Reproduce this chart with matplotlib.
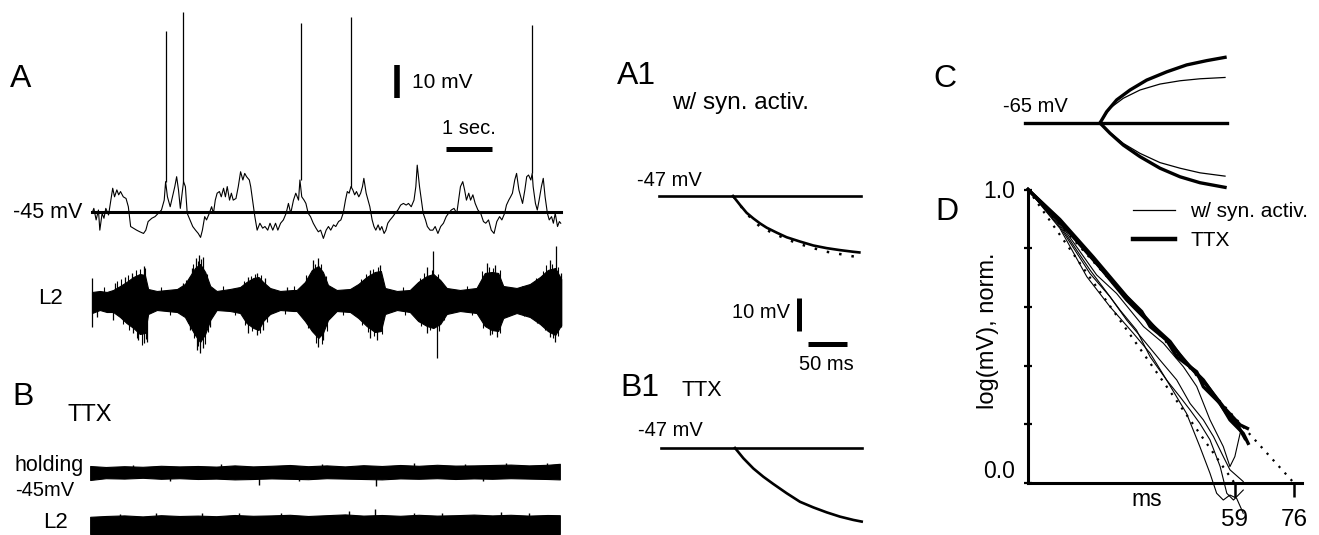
import numpy as np
import matplotlib
matplotlib.use("Agg")
import matplotlib.pyplot as plt
from matplotlib.lines import Line2D

plt.rcParams['font.family'] = ['Liberation Sans', 'DejaVu Sans']

# ---------------- data ----------------
# A: membrane potential with synaptic activity, (time s, mV)
vm_trace = [
    (0.00, -45.4), (0.04, -43.9), (0.09, -47.4), (0.14, -44.4), (0.17, -50.5), (0.22, -45.4),
    (0.26, -46.9), (0.30, -43.9), (0.36, -45.9), (0.41, -41.4), (0.45, -37.8), (0.49, -40.4),
    (0.54, -38.3), (0.58, -39.8), (0.62, -38.8), (0.68, -40.4), (0.74, -40.9), (0.79, -43.4),
    (0.84, -49.4), (0.90, -49.9), (0.97, -50.5), (1.04, -51.0), (1.12, -51.5), (1.17, -50.5),
    (1.22, -47.9), (1.30, -46.9), (1.37, -46.4), (1.44, -45.4), (1.51, -44.4), (1.57, -41.4),
    (1.60, -35.8), (1.64, -40.4), (1.70, -43.4), (1.75, -40.4), (1.80, -37.3), (1.84, -34.3),
    (1.88, -38.3), (1.92, -43.9), (1.96, -39.3), (1.99, -35.8), (2.03, -37.3), (2.07, -45.4),
    (2.13, -47.4), (2.19, -49.4), (2.25, -50.5), (2.31, -51.5), (2.36, -52.7), (2.40, -50.5),
    (2.45, -46.4), (2.49, -47.4), (2.55, -45.4), (2.60, -43.4), (2.64, -45.4), (2.68, -41.4),
    (2.72, -39.3), (2.77, -38.8), (2.81, -40.4), (2.86, -37.8), (2.90, -40.4), (2.94, -37.3),
    (2.99, -41.4), (3.03, -39.3), (3.07, -41.4), (3.13, -40.9), (3.18, -37.3), (3.23, -32.8),
    (3.28, -35.3), (3.32, -33.3), (3.36, -34.3), (3.42, -35.3), (3.45, -37.3), (3.51, -43.4),
    (3.54, -46.4), (3.59, -50.5), (3.65, -48.4), (3.71, -49.9), (3.76, -49.4), (3.82, -50.5),
    (3.87, -48.4), (3.93, -50.5), (3.99, -48.4), (4.04, -50.5), (4.10, -48.4), (4.16, -47.4),
    (4.22, -45.4), (4.27, -42.4), (4.32, -45.4), (4.38, -41.4), (4.43, -39.3), (4.49, -41.4),
    (4.52, -35.3), (4.56, -40.4), (4.61, -41.4), (4.65, -42.4), (4.70, -45.4), (4.75, -46.4),
    (4.81, -48.4), (4.87, -49.9), (4.92, -51.0), (4.97, -50.5), (5.03, -53.0), (5.09, -50.5),
    (5.14, -49.4), (5.19, -50.5), (5.25, -48.9), (5.30, -49.4), (5.36, -47.9), (5.41, -47.4),
    (5.46, -45.4), (5.51, -41.4), (5.55, -38.8), (5.59, -39.3), (5.63, -37.3), (5.67, -38.3),
    (5.71, -39.8), (5.75, -38.8), (5.80, -40.4), (5.84, -39.3), (5.88, -37.3), (5.91, -34.8),
    (5.96, -39.3), (6.00, -41.4), (6.04, -43.4), (6.09, -47.4), (6.13, -49.4), (6.17, -50.5),
    (6.22, -48.9), (6.26, -50.5), (6.30, -49.4), (6.35, -51.5), (6.39, -50.5), (6.43, -48.4),
    (6.48, -47.4), (6.54, -46.4), (6.59, -45.4), (6.65, -44.4), (6.71, -42.9), (6.77, -42.4),
    (6.83, -42.9), (6.88, -42.4), (6.94, -43.4), (7.00, -41.4), (7.04, -37.3), (7.07, -30.8),
    (7.12, -37.3), (7.16, -41.4), (7.20, -45.4), (7.25, -47.4), (7.29, -49.4), (7.35, -50.5),
    (7.41, -50.5), (7.46, -49.4), (7.52, -51.5), (7.58, -49.4), (7.64, -48.4), (7.70, -46.4),
    (7.75, -45.4), (7.81, -44.4), (7.87, -43.9), (7.93, -45.4), (7.97, -41.4), (8.01, -37.3),
    (8.06, -35.8), (8.10, -38.3), (8.14, -41.4), (8.19, -39.3), (8.23, -41.4), (8.28, -39.8),
    (8.33, -42.4), (8.39, -44.4), (8.45, -45.4), (8.51, -47.9), (8.56, -48.4), (8.62, -47.4),
    (8.68, -50.5), (8.74, -51.5), (8.80, -47.9), (8.86, -46.4), (8.91, -47.4), (8.97, -45.4),
    (9.01, -42.9), (9.06, -41.4), (9.10, -40.4), (9.14, -39.3), (9.19, -35.3), (9.23, -33.3),
    (9.28, -38.3), (9.32, -40.4), (9.36, -42.4), (9.41, -38.3), (9.45, -34.3), (9.49, -33.8),
    (9.54, -35.3), (9.57, -33.3), (9.59, -37.3), (9.64, -42.4), (9.68, -44.4), (9.72, -41.4),
    (9.77, -37.3), (9.81, -34.8), (9.85, -40.4), (9.90, -45.4), (9.94, -47.4), (9.99, -46.4),
    (10.03, -48.4), (10.07, -45.4), (10.12, -49.4), (10.16, -47.9), (10.19, -48.4),
]
rest_mv = -45
spike_t = [1.61, 1.98, 4.54, 5.63, 9.57]
spike_base = [-35.8, -35.8, -35.3, -37.3, -33.3]
spike_peak = [9.8, 15.6, 12.3, 14.1, 11.7]

# A: L2 nerve recording, envelope (time s, upper, lower) in a.u.
l2_env = [
    (0.00, 0.8, -1.3), (0.17, 0.9, -1.0), (0.32, 0.8, -1.2), (0.46, 1.0, -1.2), (0.61, 1.4, -1.7),
    (0.75, 1.8, -2.3), (0.90, 2.3, -2.8), (1.04, 2.6, -3.4), (1.15, 2.5, -3.3), (1.22, 1.1, -1.4),
    (1.41, 0.9, -1.0), (1.63, 1.0, -1.1), (1.85, 1.1, -1.2), (2.02, 1.6, -1.7), (2.13, 2.4, -2.6),
    (2.24, 3.2, -3.5), (2.35, 3.6, -4.2), (2.46, 2.8, -3.4), (2.57, 1.4, -2.0), (2.71, 0.9, -1.0),
    (3.00, 1.1, -1.1), (3.22, 1.3, -1.3), (3.36, 1.8, -2.3), (3.51, 2.2, -2.8), (3.62, 2.3, -3.0),
    (3.72, 1.8, -2.1), (3.87, 1.2, -1.4), (4.09, 0.9, -1.0), (4.38, 1.0, -1.1), (4.45, 1.0, -1.1),
    (4.63, 1.8, -2.1), (4.78, 3.0, -3.1), (4.92, 3.4, -3.8), (5.02, 2.8, -3.3), (5.13, 1.5, -2.0),
    (5.32, 1.0, -1.1), (5.61, 1.1, -1.2), (5.79, 1.6, -1.8), (5.97, 2.3, -2.6), (6.15, 2.8, -3.2),
    (6.28, 2.9, -3.1), (6.37, 1.2, -1.4), (6.63, 0.9, -1.0), (6.91, 1.0, -1.2), (7.09, 1.8, -2.1),
    (7.28, 2.4, -2.6), (7.42, 2.6, -2.8), (7.57, 2.0, -2.4), (7.71, 1.2, -1.4), (8.00, 1.0, -1.1),
    (8.36, 1.2, -1.3), (8.54, 2.7, -2.6), (8.69, 2.8, -3.0), (8.83, 2.7, -3.1), (8.94, 1.4, -1.8),
    (9.23, 1.2, -1.3), (9.52, 1.6, -1.7), (9.74, 2.3, -2.4), (9.91, 3.0, -3.1), (10.07, 3.2, -3.5),
    (10.20, 2.1, -2.5),
]
# tall excursions sticking out of the L2 band (time s, tip a.u.)
l2_spikes = [
    (0.00, 2.2), (0.00, -2.7), (0.50, 1.7), (0.72, 2.3), (0.86, 2.7), (1.12, 3.4), (1.97, 1.7),
    (2.17, 3.2), (2.26, 4.2), (2.33, 4.5), (2.41, 4.3), (3.40, 2.3), (3.58, 2.7), (3.76, 2.2),
    (4.23, 1.3), (0.10, -1.7), (0.46, -2.0), (0.90, -3.3), (1.01, -4.0), (1.12, -4.3), (1.19, -4.2),
    (2.13, -3.0), (2.28, -5.0), (2.35, -5.3), (2.42, -4.8), (2.57, -2.7), (3.40, -3.3), (3.58, -3.5),
    (3.72, -3.0), (4.81, 4.0), (4.92, 4.2), (6.04, 3.0), (6.26, 3.5), (7.28, 3.3), (7.42, 4.9),
    (8.58, 3.7), (8.76, 3.5), (9.96, 4.0), (10.09, 5.4), (4.92, -4.7), (5.03, -4.0), (6.04, -3.8),
    (6.19, -4.0), (7.28, -3.3), (7.49, -5.8), (8.65, -3.5), (8.80, -3.7), (9.96, -3.7), (10.07, -4.2),
    (10.20, 2.7), (10.20, -2.7),
]
# shorter hairs along the band edges (time s, tip a.u.)
l2_hairs = [
    (0.55, 1.9), (0.62, 2.1), (0.68, -2.4), (0.78, 2.5), (0.80, -3.0), (0.95, 3.0), (0.97, -3.8),
    (1.05, 3.1), (1.08, -4.5), (1.16, 3.2), (1.17, -3.9), (2.05, 2.0), (2.08, -2.3), (2.20, 3.6),
    (2.22, -3.8), (2.30, 3.9), (2.31, -4.6), (2.38, 4.1), (2.45, -4.4), (2.50, 2.6), (2.52, -3.2),
    (3.30, 1.9), (3.33, -2.5), (3.45, 2.4), (3.48, -3.1), (3.55, 2.6), (3.65, -3.3), (3.68, 2.5),
    (3.80, -2.2), (4.66, 2.5), (4.70, -2.8), (4.85, 3.6), (4.88, -4.3), (4.98, 3.6), (5.00, -4.4),
    (5.08, 2.4), (5.10, -3.1), (5.85, 2.1), (5.88, -2.5), (5.95, 2.6), (6.00, -3.2), (6.10, 3.1),
    (6.12, -3.6), (6.22, 3.3), (6.30, -3.4), (7.12, 2.2), (7.15, -2.6), (7.22, 2.7), (7.35, -3.0),
    (7.40, 3.0), (7.52, 2.6), (7.55, -3.1), (7.65, -2.0), (8.48, 2.9), (8.50, -2.8), (8.62, 3.3),
    (8.70, -3.4), (8.72, 3.2), (8.86, 3.0), (8.88, -3.3), (9.65, 2.2), (9.68, -2.3), (9.80, 2.9),
    (9.84, -3.0), (9.88, 3.5), (10.00, 3.6), (10.02, -3.8), (10.12, 3.3), (10.14, -3.6),
    (0.25, 1.3), (1.50, 1.3), (1.70, -1.5), (2.85, 1.4), (3.10, -1.5), (4.20, -1.4), (4.40, 1.4),
    (5.45, -1.5), (6.75, 1.3), (6.80, -1.5), (8.15, 1.4), (8.25, -1.5), (9.35, 1.4), (9.40, -1.6),
]

# B: TTX, holding current and L2 (time s, upper, lower) in a.u.
hold_t = [-0.04, 0.3, 0.7, 1.1, 1.5, 1.9, 2.3, 2.7, 3.1, 3.5, 3.9, 4.3, 4.7, 5.1,
          5.5, 5.9, 6.3, 6.7, 7.1, 7.5, 7.9, 8.3, 8.7, 9.1, 9.5, 9.9, 10.17]
hold_up = [3.5, 3.0, 3.4, 3.1, 3.6, 3.3, 3.5, 3.2, 3.8, 3.3, 3.6, 4.0, 3.4, 3.8,
           3.3, 3.9, 3.5, 4.0, 3.6, 4.1, 3.7, 3.8, 4.0, 4.2, 3.8, 4.1, 4.6]
hold_lo = [-3.5, -2.6, -2.8, -2.4, -2.9, -2.6, -3.0, -2.8, -3.2, -3.0, -2.7, -2.9, -3.1, -2.6,
           -2.8, -3.0, -3.2, -2.7, -2.9, -2.6, -3.0, -2.7, -2.9, -2.6, -2.8, -3.0, -3.2]
hold_spikes = [(3.63, -6.0), (6.17, -6.5), (2.8, 4.6), (5.0, 4.4), (7.0, 4.8), (9.0, 5.0), (9.9, 4.8),
               (0.9, 4.2), (1.7, -3.8), (4.5, -3.9), (8.1, 4.5), (8.5, -3.8)]
l2b_up = [3.6, 4.0, 4.3, 3.8, 4.4, 4.0, 4.2, 3.9, 4.5, 4.1, 4.3, 4.6, 4.0, 4.4,
          4.8, 4.2, 4.5, 4.1, 4.6, 4.2, 4.4, 4.7, 4.3, 4.6, 4.2, 4.5, 4.4]
l2b_lo = [-5.0] * len(hold_t)
l2b_spikes = [(5.59, 6.5), (6.15, 7.5), (1.4, 5.6), (3.2, 5.4), (7.6, 5.6), (8.9, 5.8),
              (0.6, 5.2), (2.4, 5.3), (4.1, 5.4), (7.0, 5.3), (9.5, 5.6)]

# A1 / B1: response to hyperpolarizing step (ms, mV)
a1_span = [-95, 164]
a1_resp = [(0, -47.0), (9.0, -49.7), (17.5, -52.1), (26.1, -53.8), (34.6, -55.3), (43.2, -56.6),
           (56.0, -58.1), (68.8, -59.5), (85.9, -60.8), (103.0, -62.0), (120.1, -62.8),
           (137.2, -63.4), (154.2, -63.9), (162.0, -64.1)]
a1_fit = [(0, -47.0), (17.5, -52.4), (34.6, -56.3), (51.7, -58.3), (68.8, -60.1), (85.9, -61.6),
          (103.0, -62.8), (120.1, -63.9), (137.2, -64.6), (156.4, -65.4)]
b1_span = [-95, 163]
b1_resp = [(0, -47.0), (10.7, -50.1), (23.5, -53.2), (36.3, -55.7), (49.1, -57.9), (66.2, -60.7),
           (83.3, -63.3), (100.4, -65.0), (117.5, -66.5), (134.6, -67.8), (151.7, -68.8),
           (162.4, -69.3)]

# C: depolarizing / hyperpolarizing responses from -65 mV (ms, mV)
c_span = [-96, 163]
c_ttx_up = [(0, -65.0), (8.5, -61.6), (21.4, -58.0), (38.5, -55.0), (59.8, -52.0), (85.5, -49.5),
            (111.1, -47.4), (136.8, -46.1), (160.3, -45.1)]
c_syn_up = [(0, -65.0), (12.8, -60.5), (29.9, -57.5), (51.3, -55.0), (76.9, -53.2), (102.6, -52.2),
            (128.2, -51.6), (160.3, -51.2)]
c_ttx_dn = [(0, -65.0), (12.8, -68.1), (29.9, -71.7), (51.3, -75.2), (76.9, -78.7), (102.6, -81.3),
            (128.2, -83.1), (160.3, -84.5)]
c_syn_dn = [(0, -65.0), (12.8, -67.9), (29.9, -71.2), (51.3, -74.2), (76.9, -77.0), (102.6, -78.7),
            (128.2, -80.1), (160.3, -81.1)]

# D: normalized log decay (ms, norm.)
ttx_decays = [
    [(0, 1.0), (9.1, 0.890), (18.7, 0.760), (26.3, 0.658), (33.0, 0.572), (36.8, 0.521), (41.5, 0.464),
     (46.3, 0.396), (51.0, 0.334), (55.8, 0.260), (60.6, 0.198), (62.7, 0.186)],
    [(0, 1.0), (9.1, 0.898), (18.7, 0.769), (28.2, 0.635), (32.5, 0.584), (34.9, 0.533), (39.6, 0.487),
     (42.5, 0.430), (48.2, 0.379), (50.1, 0.328), (54.9, 0.271), (57.7, 0.215), (61.5, 0.169), (62.9, 0.135)],
    [(0, 1.0), (9.1, 0.894), (18.7, 0.762), (28.2, 0.624), (33.9, 0.555), (40.6, 0.482), (44.4, 0.419),
     (50.1, 0.351), (56.8, 0.237), (59.6, 0.203), (62.0, 0.152)],
]
syn_decays = [
    [(0, 1.0), (9.1, 0.885), (19.6, 0.709), (25.3, 0.646), (33.0, 0.533), (38.7, 0.476), (44.4, 0.396),
     (48.2, 0.329), (52.0, 0.215), (55.8, 0.124), (57.7, 0.056), (59.1, 0.090), (60.6, 0.169)],
    [(0, 1.0), (9.1, 0.879), (17.7, 0.726), (26.3, 0.589), (31.0, 0.521), (34.9, 0.430), (39.6, 0.351),
     (43.4, 0.294), (46.3, 0.249), (49.1, 0.203), (52.0, 0.147), (54.9, 0.056), (56.8, -0.035),
     (58.7, -0.058), (61.5, -0.024)],
    [(0, 1.0), (9.1, 0.873), (17.7, 0.714), (23.4, 0.635), (28.2, 0.555), (33.0, 0.487), (37.7, 0.419),
     (42.5, 0.351), (46.3, 0.271), (50.1, 0.215), (53.0, 0.158), (55.8, 0.090), (57.7, 0.045), (61.5, 0.005)],
    [(0, 1.0), (9.1, 0.868), (16.8, 0.703), (23.4, 0.601), (30.1, 0.510), (34.9, 0.442), (39.6, 0.351),
     (45.3, 0.237), (49.1, 0.124), (52.0, 0.033), (53.9, -0.035), (55.8, -0.058), (57.7, -0.041),
     (59.6, -0.052), (61.5, -0.103)],
]
fit_syn = [(0, 1.0), (59, 0.0)]
fit_ttx = [(0, 1.0), (76, 0.0)]
d_ticks = [59, 76]

# ---------------- figure ----------------
W, H = 1319, 535
fig = plt.figure(figsize=(W / 100, H / 100), dpi=100)


def panel(x0, y0, x1, y1, xmap, ymap):
    # invisible axes placed in pixel space, data limits from the trace scale
    ax = fig.add_axes([x0 / W, 1 - y1 / H, (x1 - x0) / W, (y1 - y0) / H])
    ax.set_xlim(xmap(x0), xmap(x1))
    ax.set_ylim(ymap(y1), ymap(y0))
    ax.axis('off')
    return ax


def txt(x, y, s, size=14.5, ha='left', **kw):
    fig.text(x / W, 1 - y / H, s, fontsize=size, ha=ha, va='center', **kw)


def xy(points):
    a = np.array(points, dtype=float)
    return a[:, 0], a[:, 1]


sec = lambda x: (x - 92) / 46.0

# A
axA = panel(80, 0, 580, 240, sec, lambda y: -45 + (212 - y) / 3.3)
t, v = xy(vm_trace)
axA.plot(t, v, color='k', lw=0.8)
axA.vlines(spike_t, spike_base, spike_peak, color='k', lw=0.9)
axA.plot([t[0], t[-1]], [rest_mv, rest_mv], color='k', lw=2.2)
axA.plot([6.63, 6.63], [-10.5, -10.5 + 10], color='k', lw=4, solid_capstyle='butt')
axA.plot([7.70, 7.70 + 1], [-25.9, -25.9], color='k', lw=3.6, solid_capstyle='butt')

axL = panel(80, 230, 580, 370, sec, lambda y: (300 - y) / 10.0)
lt, lu = xy([(p[0], p[1]) for p in l2_env])
_, ll = xy([(p[0], p[2]) for p in l2_env])
axL.fill_between(lt, lu, ll, color='k', lw=0.8)
st, sv = xy(l2_spikes)
axL.vlines(st, 0, sv, color='k', lw=0.9)
ht_, hv_ = xy(l2_hairs)
axL.vlines(ht_, 0, hv_, color='k', lw=0.8)

# B
axBh = panel(80, 455, 580, 500, sec, lambda y: (473 - y) / 2.0)
axBh.fill_between(hold_t, hold_up, hold_lo, color='k', lw=0.8)
ht, hv = xy(hold_spikes)
axBh.vlines(ht, 0, hv, color='k', lw=1.0)

axBl = panel(80, 500, 580, 535, sec, lambda y: (524 - y) / 2.0)
axBl.fill_between(hold_t, l2b_up, l2b_lo, color='k', lw=0.8)
bt, bv = xy(l2b_spikes)
axBl.vlines(bt, 0, bv, color='k', lw=1.0)

# A1
axA1 = panel(640, 140, 880, 380, lambda x: (x - 733) * 1.282, lambda y: -47 - (y - 196) / 3.3)
axA1.plot(a1_span, [-47, -47], color='k', lw=1.9)
axA1.plot(*xy(a1_resp), color='k', lw=1.9)
axA1.plot(*xy(a1_fit), color='k', lw=1.8, linestyle=(0, (1, 4)))
axA1.plot([84.6, 84.6], [-87.9, -87.9 + 10], color='k', lw=3.6, solid_capstyle='butt')
axA1.plot([96.2, 96.2 + 50], [-91.8, -91.8], color='k', lw=3.6, solid_capstyle='butt')

# B1
axB1 = panel(640, 400, 880, 535, lambda x: (x - 735) * 1.282, lambda y: -47 - (y - 448) / 3.3)
axB1.plot(b1_span, [-47, -47], color='k', lw=1.9)
axB1.plot(*xy(b1_resp), color='k', lw=1.9)

# C
axC = panel(1010, 30, 1240, 200, lambda x: (x - 1100) * 1.282, lambda y: -65 + (123 - y) / 3.3)
axC.plot(c_span, [-65, -65], color='k', lw=2.4)
for tr in (c_ttx_up, c_ttx_dn):
    axC.plot(*xy(tr), color='k', lw=2.4)
for tr in (c_syn_up, c_syn_dn):
    axC.plot(*xy(tr), color='k', lw=0.9)

# D
axD = fig.add_axes([1028 / W, 1 - 483 / H, 274 / W, 293.5 / H])
axD.set_xlim(0, 274 / 3.5)
axD.set_ylim(0, 1)
for tr in syn_decays:
    axD.plot(*xy(tr), color='k', lw=0.8, clip_on=False)
for tr in ttx_decays:
    axD.plot(*xy(tr), color='k', lw=2.4, clip_on=False)
axD.plot(*xy(fit_syn), color='k', lw=1.6, linestyle=(0, (1, 3)), clip_on=False)
axD.plot(*xy(fit_ttx), color='k', lw=1.6, linestyle=(0, (1, 3)), clip_on=False)
for s in ('top', 'right'):
    axD.spines[s].set_visible(False)
for s in ('left', 'bottom'):
    axD.spines[s].set_linewidth(2.2)
axD.set_yticks([0, 0.2, 0.4, 0.6, 0.8, 1.0])
axD.set_yticklabels(['0.0', '', '', '', '', '1.0'])
axD.get_yticklabels()[0].set_verticalalignment('bottom')
axD.tick_params(axis='y', direction='inout', length=6, width=1.6, labelsize=16.5, pad=6)
axD.set_xticks(d_ticks)
axD.set_xticklabels([str(v) for v in d_ticks])
axD.tick_params(axis='x', direction='out', length=10, width=1.8, labelsize=17.5, pad=9)
handles = [Line2D([], [], color='k', lw=0.9), Line2D([], [], color='k', lw=3.2)]
axD.legend(handles, ['w/ syn. activ.', 'TTX'], loc='upper left',
           bbox_to_anchor=(1133 / W, 1 - 202 / H), bbox_transform=fig.transFigure,
           frameon=False, fontsize=15, handlelength=2.0, handletextpad=0.75,
           labelspacing=0.5, borderpad=0, borderaxespad=0)

# text
txt(10, 79, 'A', size=23)
txt(13, 212, '-45 mV', size=15.5)
txt(412, 83, '10 mV', size=15)
txt(469, 128, '1 sec.', ha='center')
txt(38, 298, 'L2', size=16)
txt(12, 397, 'B', size=23)
txt(67, 415, 'TTX', size=17)
txt(15, 466, 'holding', size=15.5)
txt(15, 490, '-45mV', size=14.5)
txt(43, 522, 'L2', size=16)
txt(617, 76, 'A1', size=23)
txt(672, 103, 'w/ syn. activ.', size=17.5)
txt(637, 180, '-47 mV')
txt(790, 313, '10 mV', ha='right')
txt(826, 365, '50 ms', ha='center')
txt(620, 388, 'B1', size=23)
txt(682, 391, 'TTX', size=15.5)
txt(638, 430, '-47 mV')
txt(933, 79, 'C', size=23)
txt(1003, 107, '-65 mV')
txt(935, 212, 'D', size=23)
txt(1147, 500, 'ms', ha='center', size=16.5)
fig.text(988 / W, 1 - 331 / H, 'log(mV), norm.', fontsize=17, rotation=90, ha='center', va='center')

fig.savefig('out.png', dpi=100)
